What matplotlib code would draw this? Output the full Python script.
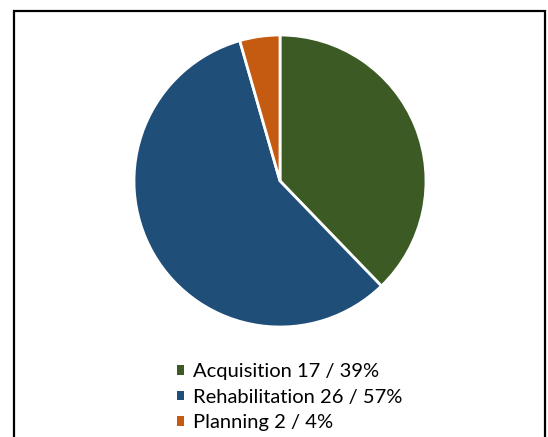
import matplotlib.pyplot as plt
from matplotlib.patches import Rectangle

categories = ["Acquisition", "Rehabilitation", "Planning"]
counts = [17, 26, 2]
percents = [39, 57, 4]
colors = ["#3B5A24", "#1F4E79", "#C55A11"]

labels = ["{} {} / {}%".format(c, n, p) for c, n, p in zip(categories, counts, percents)]

W, H = 548, 437
fig = plt.figure(figsize=(W / 100, H / 100), dpi=100)
fig.patch.set_facecolor("white")

# chart frame (bottom edge is cut off in the original)
fig.patches.append(Rectangle((14 / W, -0.05), (545 - 14) / W, 1.05 - 11 / H,
                             transform=fig.transFigure, fill=False,
                             edgecolor="black", linewidth=1.6))

# pie: center (280,181), radius ~146 px
r = 146
ax = fig.add_axes([(280 - r) / W, 1 - (181 + r) / H, 2 * r / W, 2 * r / H])
wedges, _ = ax.pie(counts, colors=colors, startangle=90, counterclock=False,
                   wedgeprops=dict(edgecolor="white", linewidth=2))
ax.set_xlim(-1, 1)
ax.set_ylim(-1, 1)
ax.set_aspect("auto")
ax.axis("off")

leg = fig.legend(wedges, labels, loc="upper left",
                 bbox_to_anchor=(159 / W, 1 - 345 / H),
                 frameon=False, handlelength=0.35, handleheight=0.35,
                 handletextpad=0.45, labelspacing=0.43,
                 prop={"family": "Lato", "size": 14.5})
for h in leg.legend_handles:
    h.set_edgecolor("none")

fig.savefig("out.png", dpi=100)
